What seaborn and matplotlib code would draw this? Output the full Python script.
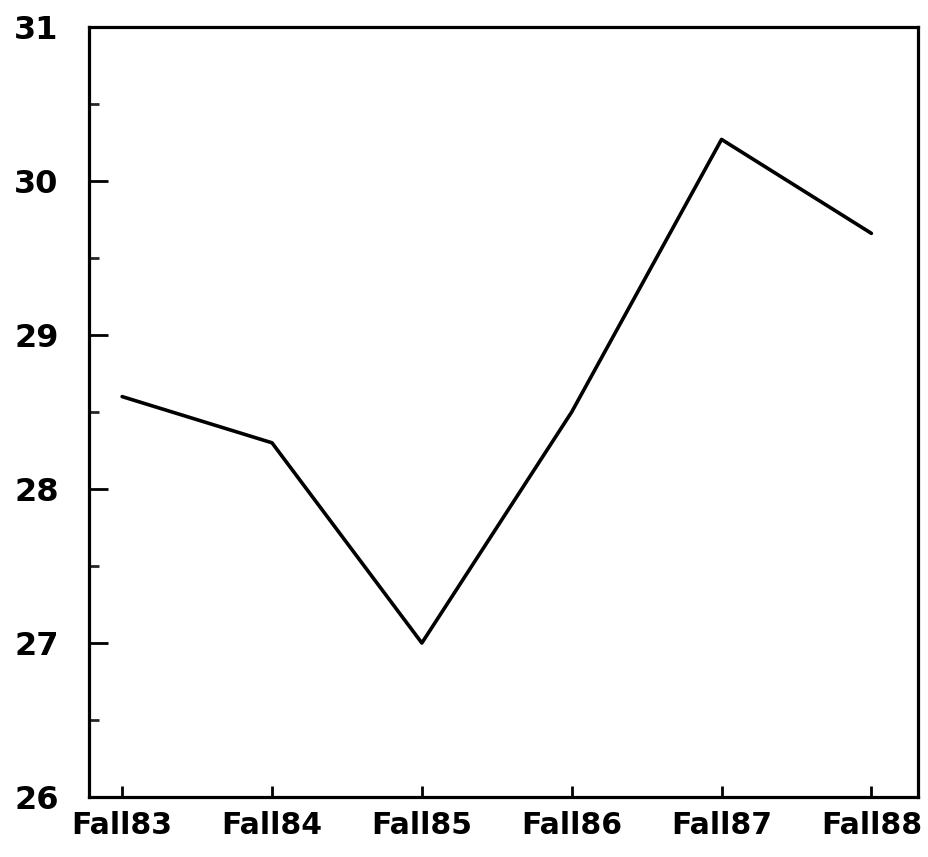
import numpy as np
import pandas as pd
import matplotlib
matplotlib.use("Agg")
import matplotlib.pyplot as plt
import seaborn as sns
from matplotlib.ticker import MultipleLocator

sns.set_theme(style="ticks")
plt.rcParams['font.family'] = ['DejaVu Sans']
plt.rcParams['ytick.major.size'] = 14
plt.rcParams['ytick.minor.size'] = 7
plt.rcParams['xtick.major.size'] = 8

# values
semesters = ["Fall83", "Fall84", "Fall85", "Fall86", "Fall87", "Fall88"]
values = [28.6, 28.3, 27.0, 28.5, 30.27, 29.66]

df = pd.DataFrame({"semester": semesters, "value": values})
df["pos"] = np.arange(len(semesters))

fig = plt.figure(figsize=(9.29, 8.57), dpi=100)
ax = fig.add_axes([0.096, 0.07, 0.892, 0.8985])

sns.lineplot(data=df, x="pos", y="value", color="black", linewidth=2.6, ax=ax, sort=False)

ax.set_xlim(-0.22, 5.31)
ax.set_ylim(26, 31)
ax.set_xticks(df["pos"])
ax.set_xticklabels(semesters)
ax.yaxis.set_major_locator(MultipleLocator(1))
ax.yaxis.set_minor_locator(MultipleLocator(0.5))
ax.set_xlabel("")
ax.set_ylabel("")

for sp in ax.spines.values():
    sp.set_visible(True)
    sp.set_color("black")
    sp.set_linewidth(2.3)

ax.tick_params(axis="y", which="major", direction="in", length=14, width=2,
               left=True, right=False, labelsize=23, pad=22, colors="black")
ax.tick_params(axis="y", which="minor", direction="in", length=7, width=2, left=True, right=False)
ax.tick_params(axis="x", which="major", direction="in", length=8, width=2,
               bottom=True, top=False, labelsize=21.5, pad=10, colors="black")
for lab in ax.get_xticklabels() + ax.get_yticklabels():
    lab.set_fontweight("bold")

ax.grid(False)
fig.savefig("out.png", dpi=100, facecolor="white")
